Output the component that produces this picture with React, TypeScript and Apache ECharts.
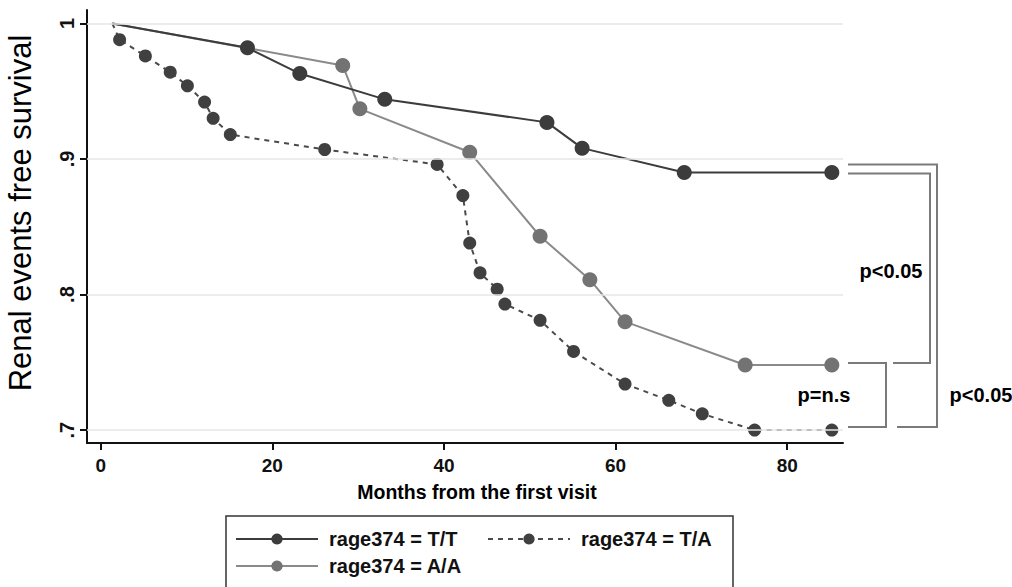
import React, { useEffect, useRef } from "react";
import * as echarts from "echarts";

// ---- Data (months from first visit, survival) ----
const ttMonths = [1.35, 17.1, 23.2, 33.1, 52.0, 56.1, 68.0, 85.2];
const ttSurv = [1.0, 0.982, 0.963, 0.944, 0.927, 0.908, 0.89, 0.89];

const taMonths = [1.35, 2.2, 5.2, 8.1, 10.1, 12.1, 13.1, 15.1, 26.1, 39.2, 42.2, 43.0, 44.2, 46.2, 47.1, 51.2, 55.1, 61.1, 66.2, 70.1, 76.2, 85.2];
const taSurv = [1.0, 0.988, 0.976, 0.964, 0.954, 0.942, 0.93, 0.918, 0.907, 0.896, 0.873, 0.838, 0.816, 0.804, 0.793, 0.781, 0.758, 0.734, 0.722, 0.712, 0.7, 0.7];

const aaMonths = [1.35, 28.2, 30.2, 43.0, 51.2, 57.0, 61.1, 75.1, 85.2];
const aaSurv = [1.0, 0.969, 0.937, 0.905, 0.843, 0.811, 0.78, 0.748, 0.748];

const seriesNames = ["rage374 = T/T", "rage374 = T/A", "rage374 = A/A"];
const xTicks = [0, 20, 40, 60, 80];
const yTicks = [0.7, 0.8, 0.9, 1.0];
const pLabels = ["p<0.05", "p=n.s", "p<0.05"];
const yTitle = "Renal events free survival";
const xTitle = "Months from the first visit";

const toData = (m: number[], s: number[]) =>
  m.map((x, i) => (i === 0 ? { value: [x, s[i]], symbol: "none" } : { value: [x, s[i]] }));

const fmtY = (v: number) => {
  const s = (Math.round(v * 10) / 10).toFixed(1);
  if (s === "1.0") return "1";
  return s.replace(/^0/, "");
};

export default function App() {
  const ref = useRef<HTMLDivElement>(null);
  useEffect(() => {
    if (!ref.current) return;
    const chart = echarts.init(ref.current, undefined, { renderer: "svg" });
    const legendCommon = {
      itemWidth: 82,
      itemHeight: 14,
      textStyle: { fontSize: 20, fontWeight: "bold", color: "#111", fontFamily: "Liberation Sans", padding: [0, 0, 0, 6] },
      selectedMode: false,
      padding: 0,
    };
    chart.setOption({
      animation: false,
      backgroundColor: "#fff",
      grid: { left: 87, right: 169, top: 10, bottom: 144, containLabel: false, outerBoundsMode: "none" },
      xAxis: {
        type: "value",
        min: -1.6,
        max: 86.5,
        splitLine: { show: false },
        axisLine: { show: true, onZero: false, lineStyle: { color: "#111", width: 2 } },
        axisTick: { show: true, customValues: xTicks, length: 7, lineStyle: { color: "#111", width: 2 } },
        axisLabel: {
          customValues: xTicks,
          margin: 13,
          fontSize: 19,
          fontWeight: "bold",
          color: "#111",
          fontFamily: "Liberation Sans",
        },
      },
      yAxis: {
        type: "value",
        min: 0.6905,
        max: 1.0099,
        splitLine: { show: false },
        axisLine: { show: true, onZero: false, lineStyle: { color: "#111", width: 2 } },
        axisTick: { show: true, customValues: yTicks, length: 7, lineStyle: { color: "#111", width: 2 } },
        axisLabel: {
          customValues: yTicks,
          rotate: 90,
          margin: 10,
          fontSize: 20,
          fontWeight: "bold",
          color: "#111",
          fontFamily: "Liberation Sans",
          formatter: (v: number) => fmtY(v),
        },
      },
      legend: [
        { ...legendCommon, data: [seriesNames[0]], left: 235, top: 529 },
        { ...legendCommon, data: [seriesNames[1]], left: 487, top: 529 },
        { ...legendCommon, data: [seriesNames[2]], left: 235, top: 556 },
      ],
      series: [
        {
          name: "grid",
          type: "line",
          data: [],
          z: 1,
          silent: true,
          markLine: {
            silent: true,
            symbol: "none",
            label: { show: false },
            lineStyle: { color: "#e6e6e6", width: 1.5, type: "solid" },
            data: yTicks.map((v) => ({ yAxis: v })),
          },
        },
        {
          name: seriesNames[0],
          type: "line",
          data: toData(ttMonths, ttSurv),
          symbol: "circle",
          symbolSize: 15,
          z: 4,
          itemStyle: { color: "#3c3c3c" },
          lineStyle: { color: "#3c3c3c", width: 2 },
        },
        {
          name: seriesNames[1],
          type: "line",
          data: toData(taMonths, taSurv),
          symbol: "circle",
          symbolSize: 13,
          z: 3,
          itemStyle: { color: "#404040" },
          lineStyle: { color: "#4a4a4a", width: 2, type: [5, 5] },
        },
        {
          name: seriesNames[2],
          type: "line",
          data: toData(aaMonths, aaSurv),
          symbol: "circle",
          symbolSize: 15,
          z: 3,
          itemStyle: { color: "#737373" },
          lineStyle: { color: "#8a8a8a", width: 2 },
        },
      ],
    });

    const px = (v: number) => chart.convertToPixel({ gridIndex: 0 }, [0, v])[1] as number;
    const yTT = px(ttSurv[ttSurv.length - 1]);
    const yAA = px(aaSurv[aaSurv.length - 1]);
    const yTA = px(taSurv[taSurv.length - 1]);
    const br = { stroke: "#7a7a7a", lineWidth: 2, fill: "none" };
    const pText = (text: string, x: number, y: number) => ({
      type: "text",
      x,
      y,
      style: {
        text,
        fontSize: 20,
        fontWeight: "bold",
        fontFamily: "Liberation Sans",
        fill: "#000",
        align: "center",
        verticalAlign: "middle",
      },
    });
    chart.setOption({
      graphic: [
        { type: "polyline", shape: { points: [[848, yTT - 8], [937, yTT - 8], [937, yTA - 3], [897, yTA - 3]] }, style: br },
        { type: "polyline", shape: { points: [[848, yTT + 1], [930, yTT + 1], [930, yAA - 2], [893, yAA - 2]] }, style: br },
        { type: "polyline", shape: { points: [[848, yAA - 2], [886, yAA - 2], [886, yTA - 3], [848, yTA - 3]] }, style: br },
        pText(pLabels[0], 891, (yTT + yAA) / 2 + 2),
        pText(pLabels[1], 824, yTA - 35),
        pText(pLabels[2], 981, yTA - 35),
        {
          type: "text",
          x: 20,
          y: 213,
          rotation: Math.PI / 2,
          style: {
            text: yTitle,
            fontSize: 31,
            fontFamily: "Liberation Sans",
            fill: "#000",
            align: "center",
            verticalAlign: "middle",
          },
        },
        {
          type: "text",
          x: 477,
          y: 492,
          style: {
            text: xTitle,
            fontSize: 19.5,
            fontWeight: "bold",
            fontFamily: "Liberation Sans",
            fill: "#000",
            align: "center",
            verticalAlign: "middle",
          },
        },
        {
          type: "rect",
          shape: { x: 226, y: 516, width: 507, height: 100 },
          style: { stroke: "#333", lineWidth: 1.5, fill: "none" },
        },
      ],
    });

    return () => chart.dispose();
  }, []);
  return <div ref={ref} style={{ width: 1012, height: 587, position: "absolute", left: 0, top: 0 }} />;
}
